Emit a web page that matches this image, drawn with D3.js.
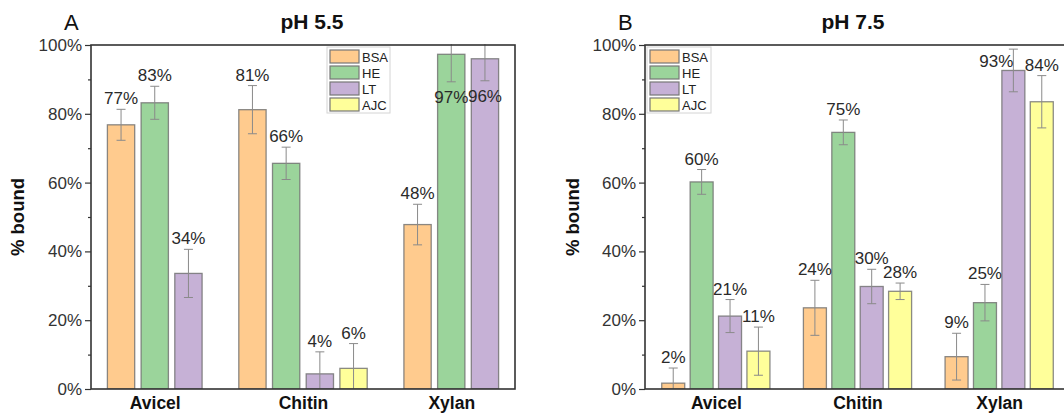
<!DOCTYPE html>
<html>
<head>
<meta charset="utf-8">
<script src="https://cdn.jsdelivr.net/npm/d3@7"></script>
<style>
  html, body { margin: 0; padding: 0; background: #fff; }
  svg { display: block; font-family: "Liberation Sans", Arial, sans-serif; }
</style>
</head>
<body>
<svg id="chart" width="1064" height="414"></svg>
<script>
// Substrates and binding proteins
const categories = ["Avicel", "Chitin", "Xylan"];
const series = ["BSA", "HE", "LT", "AJC"];
const seriesColors = ["#ffcb8e", "#9bd49b", "#c6b1d6", "#ffff9a"];
const yTicks = [0, 0.2, 0.4, 0.6, 0.8, 1.0];

// pH 5.5: fraction bound per substrate (BSA, HE, LT, AJC); null = not measured
const ph55Avicel = [0.768, 0.832, 0.336, null];
const ph55Chitin = [0.812, 0.656, 0.044, 0.060];
const ph55Xylan  = [0.478, 0.973, 0.960, null];
// pH 5.5: standard deviations
const ph55AvicelErr = [0.045, 0.048, 0.070, null];
const ph55ChitinErr = [0.070, 0.047, 0.064, 0.072];
const ph55XylanErr  = [0.059, 0.080, 0.064, null];

// pH 7.5: fraction bound per substrate (BSA, HE, LT, AJC)
const ph75Avicel = [0.017, 0.602, 0.212, 0.110];
const ph75Chitin = [0.236, 0.746, 0.298, 0.284];
const ph75Xylan  = [0.094, 0.251, 0.926, 0.835];
// pH 7.5: standard deviations
const ph75AvicelErr = [0.044, 0.036, 0.048, 0.070];
const ph75ChitinErr = [0.080, 0.036, 0.050, 0.024];
const ph75XylanErr  = [0.068, 0.053, 0.062, 0.076];

function rows(valuesByCat, errByCat) {
  const out = [];
  categories.forEach((c, ci) => {
    series.forEach((s, si) => {
      const v = valuesByCat[ci][si];
      if (v !== null) out.push({ cat: c, ser: s, si, value: v, err: errByCat[ci][si] });
    });
  });
  return out;
}

const svg = d3.select("#chart");
const pct = d3.format(".0%");

function drawPanel(cfg) {
  const g = svg.append("g");
  const { left, right, top, bottom } = cfg;

  const clipId = "clip-" + cfg.letter;
  svg.append("defs").append("clipPath").attr("id", clipId)
    .append("rect").attr("x", left).attr("y", top - 1).attr("width", right - left).attr("height", bottom - top + 1);

  const x = d3.scalePoint().domain(categories).range([left, right]).padding(cfg.xPadding);
  const y = d3.scaleLinear().domain([0, 1]).range([bottom, top]);

  const data = rows(cfg.values, cfg.errors);

  // inner band scale per category, built from the series present in it
  const inner = {};
  categories.forEach(c => {
    const present = data.filter(d => d.cat === c).map(d => d.ser);
    const half = present.length * cfg.barStep / 2;
    inner[c] = d3.scaleBand().domain(present)
      .range([x(c) - half, x(c) + half])
      .paddingInner(1 - cfg.barWidth / cfg.barStep)
      .paddingOuter((1 - cfg.barWidth / cfg.barStep) / 2);
  });

  const plot = g.append("g").attr("clip-path", `url(#${clipId})`);

  // bars
  plot.selectAll("rect.bar").data(data).join("rect")
    .attr("class", "bar")
    .attr("x", d => inner[d.cat](d.ser))
    .attr("width", d => inner[d.cat].bandwidth())
    .attr("y", d => y(d.value))
    .attr("height", d => y(0) - y(d.value))
    .attr("fill", d => seriesColors[d.si])
    .attr("stroke", "#6e6e6e")
    .attr("stroke-opacity", 0.8)
    .attr("stroke-width", 1.3);

  // error bars
  const eb = plot.selectAll("g.err").data(data).join("g").attr("class", "err")
    .attr("stroke", "#8a8a8a").attr("stroke-width", 1).attr("fill", "none");
  const cx = d => inner[d.cat](d.ser) + inner[d.cat].bandwidth() / 2;
  eb.append("line")
    .attr("x1", cx).attr("x2", cx)
    .attr("y1", d => y(d.value + d.err)).attr("y2", d => y(Math.max(d.value - d.err, 0)));
  eb.append("line")
    .attr("x1", d => cx(d) - 4.5).attr("x2", d => cx(d) + 4.5)
    .attr("y1", d => y(d.value + d.err)).attr("y2", d => y(d.value + d.err));
  eb.filter(d => d.value - d.err > 0).append("line")
    .attr("x1", d => cx(d) - 4.5).attr("x2", d => cx(d) + 4.5)
    .attr("y1", d => y(d.value - d.err)).attr("y2", d => y(d.value - d.err));

  // value labels
  g.selectAll("text.val").data(data).join("text")
    .attr("class", "val")
    .attr("font-size", 17)
    .attr("fill", "#2a2a2a")
    .attr("text-anchor", "middle")
    .attr("x", d => {
      const p = cfg.labelPlacement[d.cat + "|" + d.ser];
      return cx(d) + (p === "left" ? -17 : 0);
    })
    .attr("y", d => {
      const p = cfg.labelPlacement[d.cat + "|" + d.ser];
      if (p === "inside") return y(d.value - d.err) + 21;
      if (p === "left") return y(d.value) - 3;
      return y(d.value + d.err) - 5;
    })
    .text(d => pct(d.value));

  // axes
  const yAxis = d3.axisLeft(y).tickValues(yTicks).tickFormat(pct).tickSize(6).tickPadding(3);
  const ya = g.append("g").attr("transform", `translate(${left},0)`).call(yAxis);
  ya.select(".domain").remove();
  ya.selectAll(".tick line").attr("stroke", "#333").attr("stroke-width", 1.2);
  ya.selectAll(".tick text").attr("font-size", 17).attr("fill", "#333")
    .attr("font-family", "Liberation Sans, Arial, sans-serif");

  const minor = d3.axisLeft(y).tickValues([0.1, 0.3, 0.5, 0.7, 0.9]).tickSize(3).tickFormat("");
  const ym = g.append("g").attr("transform", `translate(${left},0)`).call(minor);
  ym.select(".domain").remove();
  ym.selectAll(".tick line").attr("stroke", "#333").attr("stroke-width", 1.2);

  const xAxis = d3.axisBottom(x).tickSize(0).tickPadding(8);
  const xa = g.append("g").attr("transform", `translate(0,${bottom})`).call(xAxis);
  xa.select(".domain").remove();
  xa.selectAll(".tick text").attr("font-size", 17.5).attr("font-weight", "bold").attr("fill", "#111")
    .attr("font-family", "Liberation Sans, Arial, sans-serif");

  // frame
  g.append("rect").attr("x", left).attr("y", top).attr("width", right - left).attr("height", bottom - top)
    .attr("fill", "none").attr("stroke", "#333").attr("stroke-width", 1.6);

  // legend
  const lg = g.append("g").attr("transform", `translate(${cfg.legendX},${cfg.legendY})`);
  lg.append("rect").attr("x", 0).attr("y", 0).attr("width", cfg.legendW).attr("height", 66)
    .attr("fill", "#fff").attr("stroke", "#d4d4d4").attr("stroke-width", 1);
  series.forEach((s, i) => {
    lg.append("rect").attr("x", 3).attr("y", 3 + i * 16).attr("width", 29).attr("height", 13)
      .attr("fill", seriesColors[i]).attr("stroke", "#777").attr("stroke-width", 1.2);
    lg.append("text").attr("x", 35).attr("y", 14.5 + i * 16).attr("font-size", 13).attr("fill", "#222").text(s);
  });

  // titles
  g.append("text").attr("x", cfg.titleX).attr("y", 29).attr("text-anchor", "middle")
    .attr("font-size", 21).attr("font-weight", "bold").attr("fill", "#111").text(cfg.title);
  g.append("text").attr("x", cfg.letterX).attr("y", 30).attr("font-size", 22).attr("fill", "#111").text(cfg.letter);
  g.append("text")
    .attr("transform", `translate(${cfg.ylabelX},${(top + bottom) / 2}) rotate(-90)`)
    .attr("text-anchor", "middle").attr("font-size", 18.5).attr("font-weight", "bold").attr("fill", "#111")
    .text("% bound");
}

drawPanel({
  letter: "A", title: "pH 5.5",
  left: 91, right: 515, top: 45, bottom: 389,
  xPadding: 0.43, barStep: 33.7, barWidth: 27.3,
  values: [ph55Avicel, ph55Chitin, ph55Xylan],
  errors: [ph55AvicelErr, ph55ChitinErr, ph55XylanErr],
  labelPlacement: { "Xylan|HE": "inside", "Xylan|LT": "inside" },
  legendX: 327, legendY: 47, legendW: 63,
  titleX: 312, letterX: 64, ylabelX: 24
});

drawPanel({
  letter: "B", title: "pH 7.5",
  left: 645, right: 1070, top: 45, bottom: 389,
  xPadding: 0.5, barStep: 28.4, barWidth: 23,
  values: [ph75Avicel, ph75Chitin, ph75Xylan],
  errors: [ph75AvicelErr, ph75ChitinErr, ph75XylanErr],
  labelPlacement: { "Xylan|LT": "left" },
  legendX: 647, legendY: 47, legendW: 64,
  titleX: 853, letterX: 618, ylabelX: 579
});
</script>
</body>
</html>
